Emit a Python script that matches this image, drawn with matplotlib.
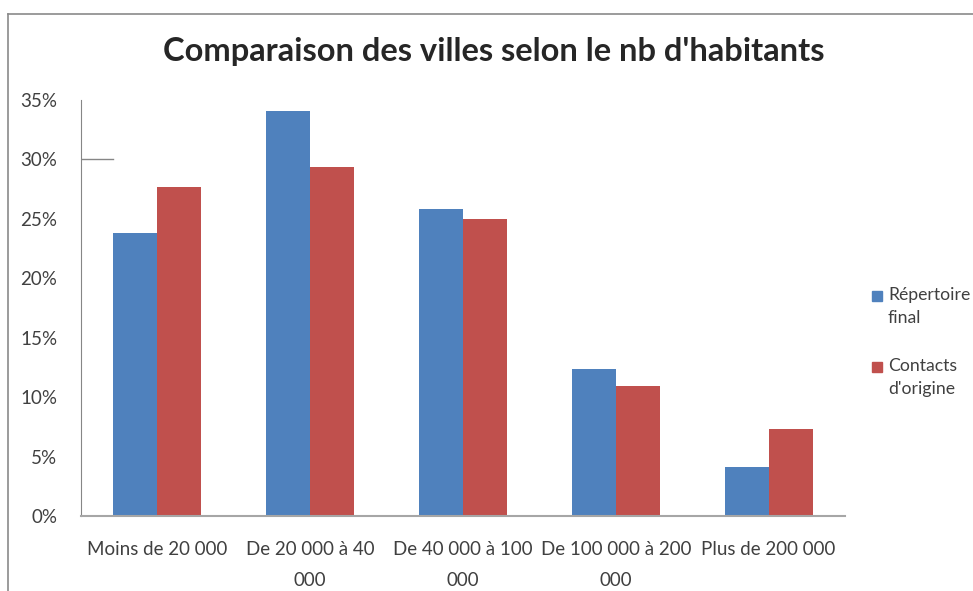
import matplotlib
matplotlib.use("Agg")
import matplotlib.pyplot as plt
import numpy as np
from matplotlib.lines import Line2D
from matplotlib.patches import Rectangle

# Données
categories = ["Moins de 20 000", "De 20 000 à 40\n000", "De 40 000 à 100\n000",
              "De 100 000 à 200\n000", "Plus de 200 000"]
repertoire_final = [0.238, 0.341, 0.258, 0.124, 0.041]
contacts_origine = [0.277, 0.294, 0.250, 0.109, 0.073]
series_names = ["Répertoire\nfinal", "Contacts\nd'origine"]
yticks = [0, 0.05, 0.10, 0.15, 0.20, 0.25, 0.30, 0.35]

blue = "#4F81BD"
red = "#C0504D"
txt = "#404040"

plt.rcParams["font.family"] = ["Lato", "DejaVu Sans"]

W, H = 973, 591
fig = plt.figure(figsize=(W / 100, H / 100), dpi=100)

# cadre du graphique (haut et gauche visibles)
fig.add_artist(Line2D([8 / W, 1], [1 - 14 / H] * 2, color="#8a8a8a", lw=1.2))
fig.add_artist(Line2D([8 / W] * 2, [0, 1 - 14 / H], color="#8a8a8a", lw=1.2))

ax = fig.add_axes([81 / W, 1 - 516 / H, (845 - 81) / W, (516 - 100) / H])

x = np.arange(len(categories))
w = 0.288
ax.bar(x - w / 2, repertoire_final, w, color=blue)
ax.bar(x + w / 2, contacts_origine, w, color=red)

ax.set_xlim(-0.5, len(categories) - 0.5)
ax.set_ylim(0, 0.35)
ax.set_yticks(yticks)
ax.set_yticklabels([f"{int(round(v * 100))}%" for v in yticks], fontsize=13.5, color=txt)
ax.set_xticks(x)
ax.set_xticklabels(categories, fontsize=13.5, color=txt, linespacing=2.0, va="top")
ax.tick_params(axis="both", length=0)
ax.tick_params(axis="y", pad=17)
ax.tick_params(axis="x", pad=18)

for s in ["top", "right"]:
    ax.spines[s].set_visible(False)
ax.spines["left"].set_color("#868686")
ax.spines["bottom"].set_color("#a6a6a6")
ax.spines["bottom"].set_linewidth(1.5)

# petit trait résiduel à 30 %
ax.plot([0, 0.042], [0.30, 0.30], transform=ax.get_yaxis_transform(), color="#868686", lw=1)

fig.text(494 / W, 1 - 51 / H, "Comparaison des villes selon le nb d'habitants",
         ha="center", va="center", fontsize=23.5, fontweight="bold", color="#262626")

# légende
for i, (name, col) in enumerate(zip(series_names, [blue, red])):
    yy = 1 - (296 + 71 * i) / H
    fig.add_artist(Rectangle((872 / W, yy - 5 / H), 10 / W, 10 / H, color=col,
                             transform=fig.transFigure))
    fig.text(888 / W, yy + 9 / H, name, ha="left", va="top", fontsize=12.7,
             color=txt, linespacing=1.55)

fig.savefig("out.png", dpi=100)
